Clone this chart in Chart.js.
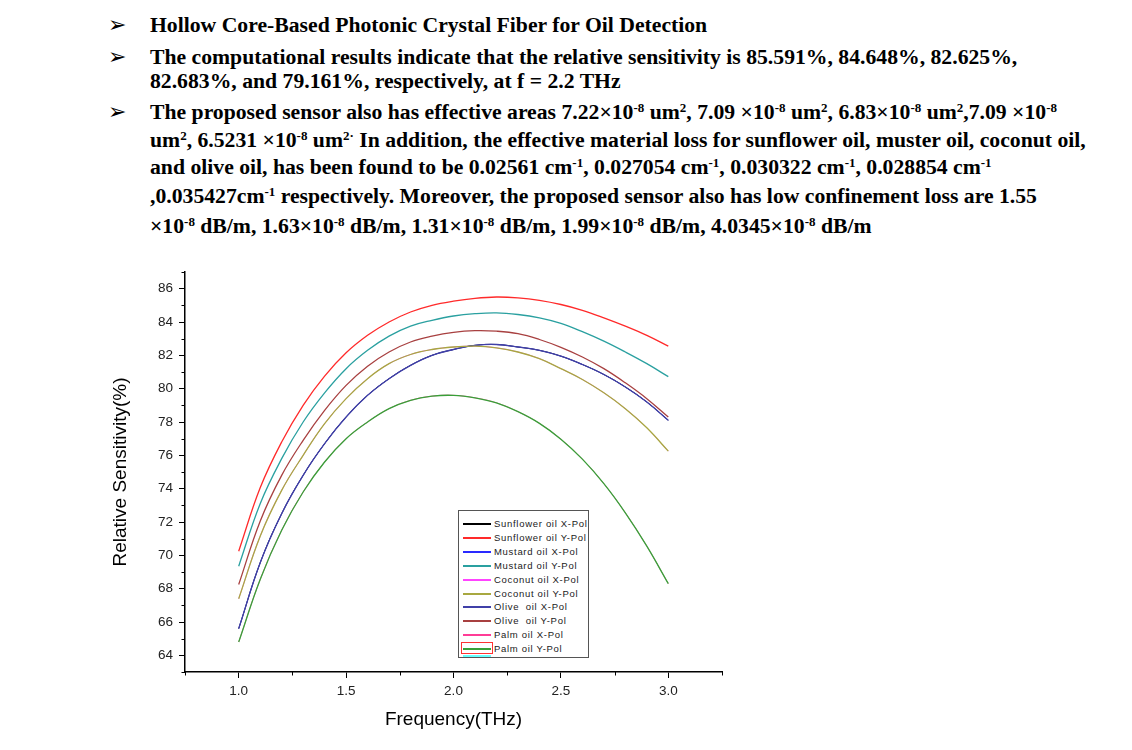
<!DOCTYPE html>
<html>
<head>
<meta charset="utf-8">
<script src="https://cdn.jsdelivr.net/npm/chart.js@4.4.1/dist/chart.umd.min.js"></script>
<style>
  html, body { margin: 0; padding: 0; background: #fff; }
  body { width: 1132px; height: 750px; position: relative; overflow: hidden; }
  .ln {
    position: absolute; left: 150px; white-space: nowrap;
    font-family: "Liberation Serif", "Times New Roman", serif;
    font-weight: bold; font-size: 21.7px; line-height: 22px; color: #000;
  }
  .ln sup { font-size: 13px; line-height: 0; vertical-align: 7px; }
  .bul {
    position: absolute; left: 108px; font-family: "DejaVu Sans", sans-serif;
    font-size: 22px; line-height: 22px; color: #000;
  }
  #plot { position: absolute; left: 100px; top: 255px; width: 660px; height: 490px; }
  #legend {
    position: absolute; left: 458px; top: 510px; width: 129px; height: 146px;
    border: 1px solid #555; background: #fff; box-sizing: content-box;
  }
  .row { position: absolute; left: 0; height: 14px; width: 129px; }
  .swatch { position: absolute; left: 4px; top: 6px; width: 28px; height: 2px; }
  .lab {
    position: absolute; left: 35px; top: 0; line-height: 14px;
    font-family: "Liberation Sans", Arial, sans-serif; font-size: 9.5px;
    letter-spacing: 0.7px; color: #1a1a1a; white-space: pre;
  }
</style>
</head>
<body>

<span class="bul" style="top:14px">➢</span>
<div class="ln" style="top:14px">Hollow Core-Based Photonic Crystal Fiber for Oil Detection</div>
<span class="bul" style="top:46px">➢</span>
<div class="ln" style="top:46px">The computational results indicate that the relative sensitivity is 85.591%, 84.648%, 82.625%,</div>
<div class="ln" style="top:70px">82.683%, and 79.161%, respectively, at f = 2.2 THz</div>
<span class="bul" style="top:101px">➢</span>
<div class="ln" style="top:101px">The proposed sensor also has effective areas 7.22×10<sup>-8</sup> um<sup>2</sup>, 7.09 ×10<sup>-8</sup> um<sup>2</sup>, 6.83×10<sup>-8</sup> um<sup>2</sup>,7.09 ×10<sup>-8</sup></div>
<div class="ln" style="top:129px">um<sup>2</sup>, 6.5231 ×10<sup>-8</sup> um<sup>2·</sup> In addition, the effective material loss for sunflower oil, muster oil, coconut oil,</div>
<div class="ln" style="top:156px">and olive oil, has been found to be 0.02561 cm<sup>-1</sup>, 0.027054 cm<sup>-1</sup>, 0.030322 cm<sup>-1</sup>, 0.028854 cm<sup>-1</sup></div>
<div class="ln" style="top:185px">,0.035427cm<sup>-1</sup> respectively. Moreover, the proposed sensor also has low confinement loss are 1.55</div>
<div class="ln" style="top:215px">×10<sup>-8</sup> dB/m, 1.63×10<sup>-8</sup> dB/m, 1.31×10<sup>-8</sup> dB/m, 1.99×10<sup>-8</sup> dB/m, 4.0345×10<sup>-8</sup> dB/m</div>

<div id="plot"><canvas id="sensChart"></canvas></div>
<div id="legend"></div>

<script>
// frequency samples (THz)
const freq = [1.0, 1.1, 1.2, 1.3, 1.4, 1.5, 1.6, 1.7, 1.8, 1.9, 2.0,
              2.1, 2.2, 2.3, 2.4, 2.5, 2.6, 2.7, 2.8, 2.9, 3.0];

// relative sensitivity (%)
const sunflowerY = [70.25, 74.05, 76.8, 79.0, 80.75, 82.15, 83.2, 84.0, 84.6, 85.0, 85.25,
                    85.42, 85.5, 85.45, 85.3, 85.05, 84.7, 84.25, 83.75, 83.2, 82.55];
const mustardY   = [69.35, 73.1, 75.8, 78.0, 79.75, 81.2, 82.3, 83.15, 83.75, 84.1, 84.36,
                    84.5, 84.55, 84.45, 84.25, 83.92, 83.42, 82.85, 82.2, 81.5, 80.72];
const oliveY     = [68.25, 72.05, 74.8, 76.9, 78.7, 80.2, 81.35, 82.2, 82.8, 83.15, 83.38,
                    83.48, 83.45, 83.3, 82.95, 82.48, 81.9, 81.2, 80.35, 79.4, 78.3];
const oliveX     = [65.6, 69.55, 72.5, 74.8, 76.7, 78.3, 79.6, 80.6, 81.4, 82.0, 82.35,
                    82.6, 82.65, 82.5, 82.3, 81.95, 81.45, 80.85, 80.1, 79.2, 78.1];
const coconutY   = [67.4, 71.15, 73.9, 76.0, 77.9, 79.4, 80.6, 81.5, 82.05, 82.35, 82.5,
                    82.55, 82.45, 82.2, 81.8, 81.2, 80.55, 79.75, 78.8, 77.65, 76.25];
const palmY      = [64.8, 68.55, 71.5, 73.8, 75.6, 77.0, 78.0, 78.8, 79.3, 79.55, 79.6,
                    79.45, 79.15, 78.62, 77.92, 76.97, 75.77, 74.3, 72.55, 70.55, 68.3];
// these lie under the visible curves in the figure
const sunflowerX = oliveX;
const mustardX   = oliveX;
const coconutX   = coconutY;
const palmX      = palmY;

// axis ticks
const xTicks = [1.0, 1.5, 2.0, 2.5, 3.0];
const xMinor = [0.75, 1.25, 1.75, 2.25, 2.75, 3.25];
const yTicks = [64, 66, 68, 70, 72, 74, 76, 78, 80, 82, 84, 86];
const yMinor = [63, 65, 67, 69, 71, 73, 75, 77, 79, 81, 83, 85, 87];

const seriesNames = ['Sunflower oil X-Pol', 'Sunflower oil Y-Pol', 'Mustard oil X-Pol', 'Mustard oil Y-Pol',
                     'Coconut oil X-Pol', 'Coconut oil Y-Pol', 'Olive  oil X-Pol', 'Olive  oil Y-Pol',
                     'Palm oil X-Pol', 'Palm oil Y-Pol'];
const seriesData = [sunflowerX, sunflowerY, mustardX, mustardY, coconutX, coconutY, oliveX, oliveY, palmX, palmY];
const seriesColors = ['#000000', '#ff2a2a', '#2a2aff', '#2aa0a0', '#ff44ff', '#a8a840',
                      '#4040a8', '#a84040', '#ff3c96', '#38a038'];
const hiddenUnder = [true, false, true, false, true, false, false, false, true, false];

function pts(arr) {
  return freq.map((f, i) => ({ x: f, y: arr[i] }));
}

Chart.defaults.font.family = '"Liberation Sans", Arial, sans-serif';
Chart.defaults.color = '#222';

var minorTicks = {
  id: 'minorTicks',
  afterDraw(chart) {
    const { ctx, chartArea, scales } = chart;
    ctx.save();
    ctx.strokeStyle = '#000';
    ctx.lineWidth = 1;
    ctx.beginPath();
    yMinor.forEach(v => {
      const py = Math.round(scales.y.getPixelForValue(v)) + 0.5;
      ctx.moveTo(chartArea.left - 3.5, py);
      ctx.lineTo(chartArea.left, py);
    });
    xMinor.forEach(v => {
      const px = Math.round(scales.x.getPixelForValue(v)) + 0.5;
      ctx.moveTo(px, chartArea.bottom);
      ctx.lineTo(px, chartArea.bottom + 3.5);
    });
    ctx.stroke();
    ctx.restore();
  }
};

var config = {
  type: 'line',
  data: {
    datasets: seriesNames.map((name, i) => ({
      label: name,
      data: pts(seriesData[i]),
      borderColor: seriesColors[i],
      backgroundColor: seriesColors[i],
      borderWidth: hiddenUnder[i] ? 0.7 : 1.3,
      pointRadius: 0,
      fill: false,
      tension: 0.4,
      order: hiddenUnder[i] ? 2 : 1
    }))
  },
  options: {
    animation: false,
    responsive: true,
    maintainAspectRatio: false,
    layout: { padding: { left: 0, top: 17, right: 38, bottom: 0 } },
    plugins: { legend: { display: false }, tooltip: { enabled: false } },
    scales: {
      x: {
        type: 'linear',
        min: 0.75,
        max: 3.25,
        afterBuildTicks: s => { s.ticks = xTicks.map(v => ({ value: v })); },
        afterFit: s => { s.height = 73; },
        border: { display: true, color: '#000', width: 1.5 },
        grid: { drawOnChartArea: false, drawTicks: true, tickLength: 6, color: '#000', lineWidth: 1 },
        ticks: { padding: 5, font: { size: 13.5 }, color: '#222', callback: v => v.toFixed(1) },
        title: { display: true, text: 'Frequency(THz)', color: '#000', font: { size: 19 }, padding: { top: 4, bottom: 14 } }
      },
      y: {
        min: 63,
        max: 87,
        afterBuildTicks: s => { s.ticks = yTicks.map(v => ({ value: v })); },
        afterFit: s => { s.width = 85; },
        border: { display: true, color: '#000', width: 1.5 },
        grid: { drawOnChartArea: false, drawTicks: true, tickLength: 6, color: '#000', lineWidth: 1 },
        ticks: { padding: 6, font: { size: 13.5 }, color: '#222' },
        title: { display: true, text: 'Relative Sensitivity(%)', color: '#000', font: { size: 19 }, padding: { top: 9, bottom: 4 } }
      }
    }
  },
  plugins: [minorTicks]
};

var myChart = new Chart(document.getElementById('sensChart'), config);

// legend box inside the plot, built from the datasets
var legendBox = document.getElementById('legend');
myChart.data.datasets.forEach((ds, i) => {
  var row = document.createElement('div');
  row.className = 'row';
  row.style.top = Math.round(6 + i * 13.9) + 'px';
  row.innerHTML = '<div class="swatch" style="background:' + ds.borderColor + '"></div>' +
                  '<div class="lab">' + ds.label + '</div>';
  legendBox.appendChild(row);
});
// stray marks around the last legend sample in the original figure
var box = document.createElement('div');
box.style.cssText = 'position:absolute;left:2px;top:131px;width:30px;height:10px;border:1px solid #f33;';
legendBox.appendChild(box);
var bar = document.createElement('div');
bar.style.cssText = 'position:absolute;left:4px;top:144px;width:28px;height:2px;background:#6ff;';
legendBox.appendChild(bar);
</script>
</body>
</html>
